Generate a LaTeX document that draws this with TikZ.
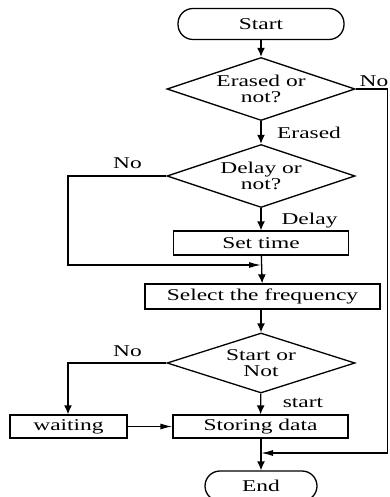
\documentclass[tikz,border=0pt]{standalone}
\usepackage{fontspec}
\setmainfont{Liberation Serif}[FakeStretch=1.42]
\usetikzlibrary{shapes.geometric,arrows.meta}
\begin{document}
\begin{tikzpicture}[x=1pt,y=-1pt,
  every node/.style={font=\fontsize{16.5}{16.5}\selectfont},
  line/.style={line width=1.3pt,line join=miter},
  vx/.style={line,-{Latex[length=9pt,width=8pt]}},
  hx/.style={line,-{Latex[length=12pt,width=6pt]}},
  term/.style={draw,line width=1.3pt,rounded corners=15pt,inner sep=0pt},
  proc/.style={draw,line width=1.3pt,inner sep=0pt},
  dec/.style={draw,line width=1.3pt,diamond,aspect=3,inner sep=0pt,align=center,
    minimum width=188pt,minimum height=63pt},
  lab/.style={anchor=base,inner sep=0pt}]
\clip (0,0) rectangle (390,497);
\useasboundingbox (0,0) rectangle (390,497);
\node[term,minimum width=166pt,minimum height=31pt] (start) at (261,24) {Start};
\node[dec] (d1) at (261,89) {Erased or\\not?};
\node[dec] (d2) at (261,176) {Delay or\\not?};
\node[proc,minimum width=175pt,minimum height=24pt] (set) at (261,243) {Set time};
\node[proc,minimum width=235pt,minimum height=25pt] (sel) at (262.5,296.5) {Select the frequency};
\node[dec,minimum height=60pt] (d3) at (261,363) {Start or\\Not};
\node[proc,minimum width=117pt,minimum height=23pt] (wait) at (68.5,426.5) {waiting};
\node[proc,minimum width=175pt,minimum height=23pt] (store) at (260.5,426.5) {Storing data};
\node[term,minimum width=112pt,minimum height=30pt] (end) at (261,486) {End};
\coordinate (m1) at (261,453);
\coordinate (m2) at (261,265);
% connectors
\draw[vx] (start) -- (d1);
\draw[vx] (d1) -- (d2);
\draw[vx] (d2) -- (set);
\draw[vx] (set) -- (sel);
\draw[vx] (sel.south -| d3) -- (d3);
\draw[vx] (d3) -- (store);
\draw[vx] (store.south -| end) -- (end);
\draw[hx] (wait) -- (store);
\draw[hx] (d1.east) -- (387.8,89) -- (387.8,453) -- (m1);
\draw[hx] (d2.west) -- (68,176) -- (68,265) -- (m2);
\draw[vx] (d3.west) -- (68,363) -- (wait.north -| 68,0);
% labels
\node[lab] (l1) at (374,87) {No};
\node[lab] (l2) at (309,139) {Erased};
\node[lab] (l3) at (127.5,168) {No};
\node[lab] (l4) at (309.5,224) {Delay};
\node[lab] (l5) at (127.5,356) {No};
\node[lab] (l6) at (303,407) {start};
\end{tikzpicture}
\end{document}
